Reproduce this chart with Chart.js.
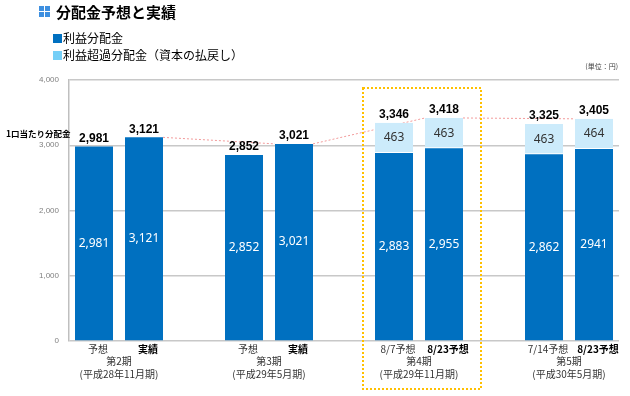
<!DOCTYPE html>
<html>
<head>
<meta charset="utf-8">
<script src="https://cdn.jsdelivr.net/npm/chart.js@4.4.0/dist/chart.umd.min.js"></script>
<style>
  body { margin: 0; background: #fff; }
  #wrap { width: 630px; height: 396px; }
</style>
</head>
<body>
<div id="wrap"><canvas id="myChart" width="630" height="396"></canvas></div>
<script>
// bars, one slot per bar, empty slots keep the periods apart
var categories = ['予想', '実績', '', '予想', '実績', '', '8/7予想', '8/23予想', '', '7/14予想', '8/23予想'];
var boldCat = [false, true, false, false, true, false, false, true, false, false, true];
var profit = [2981, 3121, null, 2852, 3021, null, 2883, 2955, null, 2862, 2941];
var excess = [null, null, null, null, null, null, 463, 463, null, 463, 464];
// text inside the dark bars (the last one has no comma in the source)
var profitText = ['2,981', '3,121', '', '2,852', '3,021', '', '2,883', '2,955', '', '2,862', '2941'];
var periods = ['第2期', '第3期', '第4期', '第5期'];
var periodSub = ['(平成28年11月期)', '(平成29年5月期)', '(平成29年11月期)', '(平成30年5月期)'];
var periodBars = [[0, 1], [3, 4], [6, 7], [9, 10]];
var trendBars = [1, 4, 7, 10];
var highlightBars = [6, 7];
var yTicks = [0, 1000, 2000, 3000, 4000];

var JP = '"Noto Sans CJK JP", sans-serif';
var NUM = '"Liberation Sans", Arial, sans-serif';

function fmt(v) {
  return v.toLocaleString('en-US');
}
function total(i) {
  return (profit[i] || 0) + (excess[i] || 0);
}

var extras = {
  id: 'extras',
  beforeDatasetsDraw: function(chart) {
    // thin red dashed line between bar tops
    var ctx = chart.ctx, y = chart.scales.y;
    var meta = chart.getDatasetMeta(0);
    ctx.save();
    ctx.strokeStyle = '#F29A9A';
    ctx.lineWidth = 1;
    ctx.setLineDash([2, 2]);
    ctx.beginPath();
    for (var k = 0; k < trendBars.length - 1; k++) {
      var a = meta.data[trendBars[k]], b = meta.data[trendBars[k + 1]];
      ctx.moveTo(a.x + a.width / 2, y.getPixelForValue(total(trendBars[k])));
      ctx.lineTo(b.x - b.width / 2, y.getPixelForValue(total(trendBars[k + 1])));
    }
    ctx.stroke();
    ctx.restore();
  },
  afterDraw: function(chart) {
    var ctx = chart.ctx, x = chart.scales.x, y = chart.scales.y;
    var m0 = chart.getDatasetMeta(0), m1 = chart.getDatasetMeta(1);
    var area = chart.chartArea;
    ctx.save();

    // title + icon
    ctx.fillStyle = '#3D8FE0';
    [[39, 6], [45, 6], [39, 12], [45, 12]].forEach(function(p) { ctx.fillRect(p[0], p[1], 5, 5); });
    ctx.fillStyle = '#000';
    ctx.font = 'bold 15px ' + JP;
    ctx.textBaseline = 'middle';
    ctx.textAlign = 'left';
    ctx.fillText('分配金予想と実績', 56, 12);

    // legend
    ctx.font = '12px ' + JP;
    chart.data.datasets.forEach(function(ds, i) {
      var ly = 38 + i * 17;
      ctx.fillStyle = i === 0 ? '#0070C0' : '#75CFF7';
      ctx.fillRect(53, ly - 4, 9, 9);
      ctx.fillStyle = '#000';
      ctx.fillText(ds.label, 63, ly);
    });

    // unit + axis title
    ctx.font = '7px ' + JP;
    ctx.fillStyle = '#404040';
    ctx.textAlign = 'right';
    ctx.fillText('(単位：円)', 618, 66);
    ctx.font = 'bold 8.5px ' + JP;
    ctx.fillStyle = '#000';
    ctx.textAlign = 'left';
    ctx.fillText('1口当たり分配金', 6, 134);

    // values
    ctx.textAlign = 'center';
    for (var i = 0; i < categories.length; i++) {
      if (profit[i] == null) continue;
      var b = m0.data[i];
      ctx.font = '12px "Noto Sans", ' + NUM;
      ctx.fillStyle = '#fff';
      ctx.fillText(profitText[i], b.x, (b.y + b.base) / 2);
      var topY = b.y;
      if (excess[i] != null) {
        var e = m1.data[i];
        ctx.fillStyle = '#333';
        ctx.fillText(fmt(excess[i]), e.x, (e.y + e.base) / 2);
        topY = e.y;
      }
      ctx.font = 'bold 12px ' + NUM;
      ctx.fillStyle = '#000';
      ctx.fillText(fmt(total(i)), b.x, topY - 8);
    }

    // category labels
    for (var i = 0; i < categories.length; i++) {
      if (!categories[i]) continue;
      ctx.font = (boldCat[i] ? 'bold ' : '') + '10px ' + JP;
      ctx.fillStyle = boldCat[i] ? '#000' : '#333';
      ctx.fillText(categories[i], x.getPixelForValue(i) + 4, area.bottom + 8);
    }
    ctx.font = '10px ' + JP;
    ctx.fillStyle = '#333';
    periodBars.forEach(function(pb, k) {
      var cx = (x.getPixelForValue(pb[0]) + x.getPixelForValue(pb[1])) / 2;
      ctx.fillText(periods[k], cx, area.bottom + 20);
      ctx.fillText(periodSub[k], cx, area.bottom + 33);
    });

    // highlight box
    var step = x.getPixelForValue(1) - x.getPixelForValue(0);
    var bx0 = x.getPixelForValue(highlightBars[0]) - step * 0.62;
    var bx1 = x.getPixelForValue(highlightBars[1]) + step * 0.74;
    ctx.strokeStyle = '#FFC000';
    ctx.lineWidth = 2;
    ctx.setLineDash([2, 2]);
    ctx.strokeRect(bx0, area.top + 8, bx1 - bx0, area.bottom + 48 - area.top - 8);
    ctx.restore();
  }
};

new Chart(document.getElementById('myChart').getContext('2d'), {
  type: 'bar',
  data: {
    labels: categories,
    datasets: [
      {
        label: '利益分配金',
        data: profit,
        backgroundColor: '#0070C0',
        borderWidth: 0,
        categoryPercentage: 1,
        barPercentage: 0.76
      },
      {
        label: '利益超過分配金（資本の払戻し）',
        data: excess,
        backgroundColor: '#CCEBFB',
        borderColor: '#ffffff',
        borderWidth: { top: 0, left: 0, right: 0, bottom: 1 },
        borderSkipped: false,
        categoryPercentage: 1,
        barPercentage: 0.76
      }
    ]
  },
  options: {
    responsive: false,
    animation: false,
    layout: { padding: { top: 80, right: 11, bottom: 47, left: 0 } },
    plugins: { legend: { display: false }, tooltip: { enabled: false } },
    scales: {
      x: {
        stacked: true,
        grid: { display: false },
        border: { display: false },
        ticks: { display: false }
      },
      y: {
        stacked: true,
        min: yTicks[0],
        max: yTicks[yTicks.length - 1],
        afterBuildTicks: function(s) { s.ticks = yTicks.map(function(v) { return { value: v }; }); },
        afterFit: function(s) { s.width = 69; },
        ticks: {
          color: '#808080',
          font: { size: 8, family: NUM },
          padding: 10,
          callback: function(v) { return fmt(v); }
        },
        grid: { color: '#C8C8C8', lineWidth: 1.5, drawTicks: false },
        border: { color: '#BFBFBF', width: 1.5 }
      }
    }
  },
  plugins: [extras]
});
</script>
</body>
</html>
